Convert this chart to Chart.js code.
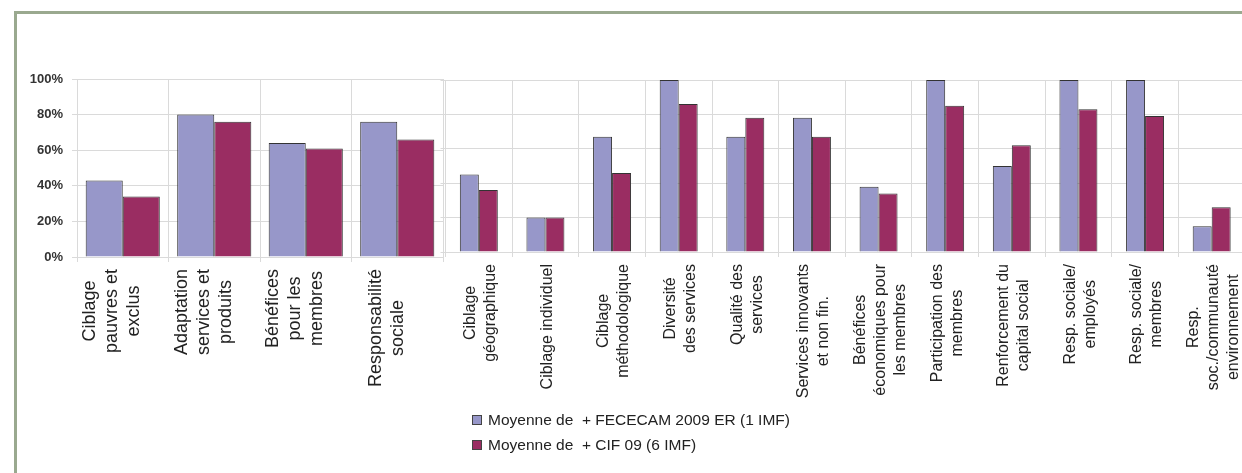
<!DOCTYPE html>
<html>
<head>
<meta charset="utf-8">
<script src="https://cdn.jsdelivr.net/npm/chart.js@4/dist/chart.umd.min.js"></script>
<style>
  html, body { margin: 0; padding: 0; background: #fff; }
  body { width: 1242px; height: 473px; overflow: hidden; position: relative; font-family: "Liberation Sans", Arial, sans-serif; }
  #frame { position: absolute; left: 14px; top: 11px; width: 1300px; height: 500px;
           border-top: 3px solid #9aa98f; border-left: 3px solid #9aa98f; }
  canvas { position: absolute; top: 0; }
  #cLeft { left: 0; }
  #cRight { left: 440px; }
  #legend { position: absolute; left: 472px; top: 407px; font-size: 15.5px; color: #222; }
  #legend .row { display: flex; align-items: center; height: 25px; white-space: pre; }
  #legend .box { width: 8px; height: 8px; border: 1px solid #444; margin-right: 6px; }
</style>
</head>
<body>
<div id="frame"></div>
<canvas id="cLeft" width="446" height="410"></canvas>
<canvas id="cRight" width="808" height="410"></canvas>
<div id="legend"></div>
<script>
// ---- data ----
const seriesNames = ["Moyenne de  + FECECAM 2009 ER (1 IMF)", "Moyenne de  + CIF 09 (6 IMF)"];
const leftCategories = [
  ["Ciblage", "pauvres et", "exclus"],
  ["Adaptation", "services et", "produits"],
  ["Bénéfices", "pour les", "membres"],
  ["Responsabilité", "sociale"]
];
const leftFececam = [43, 80, 64, 76];
const leftCif = [34, 76, 61, 66];

const rightCategories = [
  ["Ciblage", "géographique"],
  ["Ciblage individuel"],
  ["Ciblage", "méthodologique"],
  ["Diversité", "des services"],
  ["Qualité des", "services"],
  ["Services innovants", "et non fin."],
  ["Bénéfices", "économiques pour", "les membres"],
  ["Participation des", "membres"],
  ["Renforcement du", "capital social"],
  ["Resp. sociale/", "employés"],
  ["Resp. sociale/", "membres"],
  ["Resp.", "soc./communauté", "environnement"]
];
const rightFececam = [45, 20, 67, 100, 67, 78, 38, 100, 50, 100, 100, 15];
const rightCif = [36, 20, 46, 86, 78, 67, 34, 85, 62, 83, 79, 26];

const yTicks = [0, 20, 40, 60, 80, 100];

// ---- styles ----
const BLUE = "#9797c9", RED = "#9a2d62", EDGE = "#333333", GRID = "#dadada";
const FONT = "'Liberation Sans', Arial, sans-serif";

const centeredTickLabels = {
  id: "centeredTickLabels",
  afterDraw(chart, args, opts) {
    const sc = chart.scales.x, ctx = chart.ctx;
    ctx.save();
    ctx.font = opts.size + "px " + FONT;
    ctx.fillStyle = opts.color;
    ctx.textAlign = "center";
    ctx.textBaseline = "middle";
    chart.data.labels.forEach((lab, i) => {
      const lines = Array.isArray(lab) ? lab : [lab];
      const w = Math.max(...lines.map(l => ctx.measureText(l).width));
      const x = sc.getPixelForTick(i) + opts.dx;
      const y = sc.top + opts.pad;
      ctx.save();
      ctx.translate(x, y);
      ctx.rotate(-Math.PI / 2);
      lines.forEach((l, j) => ctx.fillText(l, -w / 2, (j - (lines.length - 1) / 2) * opts.lineHeight));
      ctx.restore();
    });
    ctx.restore();
  }
};

function makeChart(id, labels, a, b, cfg) {
  return new Chart(document.getElementById(id), {
    type: "bar",
    data: {
      labels: labels,
      datasets: [
        { label: seriesNames[0], data: a, backgroundColor: BLUE, borderColor: EDGE, borderWidth: 1, borderSkipped: "bottom" },
        { label: seriesNames[1], data: b, backgroundColor: RED, borderColor: EDGE, borderWidth: 1, borderSkipped: "bottom" }
      ]
    },
    options: {
      responsive: false,
      animation: false,
      devicePixelRatio: 1,
      layout: { padding: { top: cfg.top, right: cfg.right, left: 0, bottom: 0 } },
      datasets: { bar: { categoryPercentage: cfg.catPct, barPercentage: 1 } },
      plugins: {
        legend: { display: false },
        tooltip: { enabled: false },
        centeredTickLabels: { size: cfg.labelSize, lineHeight: cfg.lineHeight, pad: cfg.labelPad, dx: cfg.labelDx, color: "#222" }
      },
      scales: {
        x: {
          grid: { color: GRID, lineWidth: 1, offset: true, tickLength: 5, drawTicks: true },
          border: { color: GRID },
          ticks: { display: false },
          afterFit: s => { s.height = cfg.xHeight; }
        },
        y: {
          min: 0, max: 100,
          afterBuildTicks: s => { s.ticks = yTicks.map(v => ({ value: v })); },
          grid: { color: GRID, lineWidth: 1, tickLength: 5 },
          border: { color: GRID },
          ticks: {
            display: cfg.showY,
            padding: cfg.yPad,
            color: "#333",
            font: { family: FONT, size: 13, weight: "bold" },
            callback: v => v + "%"
          },
          afterFit: s => { s.width = cfg.yWidth; }
        }
      }
    },
    plugins: [centeredTickLabels]
  });
}

const leftChart = makeChart("cLeft", leftCategories, leftFececam, leftCif, {
  top: 79, right: 3, catPct: 0.81, labelSize: 18, lineHeight: 22, labelPad: 12, labelDx: -10.5,
  xHeight: 410 - 257, yWidth: 77, yPad: 9, showY: true
});
const rightChart = makeChart("cRight", rightCategories, rightFececam, rightCif, {
  top: 80, right: 3, catPct: 0.57, labelSize: 16, lineHeight: 20, labelPad: 12, labelDx: 2,
  xHeight: 410 - 252, yWidth: 5.5, yPad: 3, showY: false
});

// ---- legend built from the chart's datasets ----
const legendEl = document.getElementById("legend");
rightChart.data.datasets.forEach(ds => {
  const row = document.createElement("div");
  row.className = "row";
  const box = document.createElement("span");
  box.className = "box";
  box.style.background = ds.backgroundColor;
  const txt = document.createElement("span");
  txt.textContent = ds.label;
  row.appendChild(box);
  row.appendChild(txt);
  legendEl.appendChild(row);
});
</script>
</body>
</html>
